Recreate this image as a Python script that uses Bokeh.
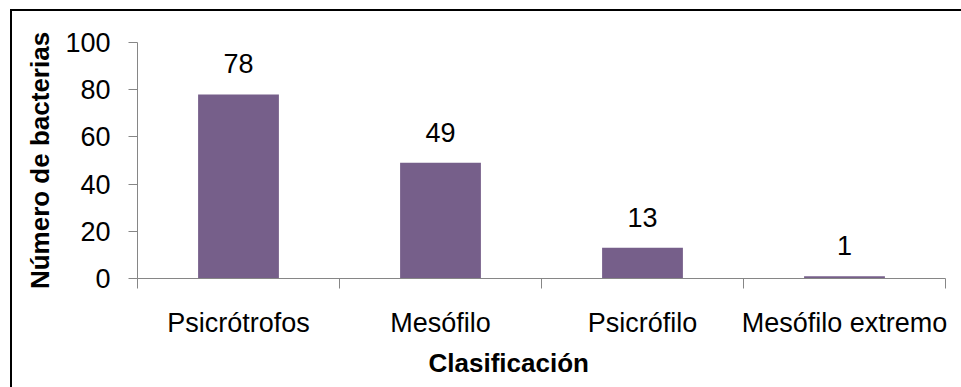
from bokeh.plotting import figure
from bokeh.models import (ColumnDataSource, Range1d, LinearAxis, FixedTicker,
                          LabelSet, Title, InlineStyleSheet)
from bokeh.core.properties import value
from bokeh.embed import file_html
from bokeh.resources import INLINE

# Data
categories = ["Psicrótrofos", "Mesófilo", "Psicrófilo", "Mesófilo extremo"]
counts = [78, 49, 13, 1]
y_ticks = [0, 20, 40, 60, 80, 100]

FONT = "Liberation Sans"
FONT_SIZE = "27px"
AXIS_GREY = "#868686"
BAR_COLOR = "#765F8A"

# bars sit in the middle of each unit-wide category slot
positions = [i + 0.5 for i in range(len(categories))]
boundaries = list(range(len(categories) + 1))

source = ColumnDataSource(dict(x=positions, count=counts,
                               label=[str(c) for c in counts]))

# thin black border around the chart area (top and left edges fall inside the page)
border_css = InlineStyleSheet(css="""
:host::after {
  content: "";
  position: absolute;
  left: 10px; top: 9px; right: 0; bottom: 0;
  border-top: 2px solid black;
  border-left: 2px solid black;
  pointer-events: none;
}
""")

p = figure(width=961, height=387, output_backend="svg", toolbar_location=None,
           x_range=Range1d(0, len(categories)), y_range=Range1d(0, 100),
           x_axis_location=None, y_axis_location=None,
           min_border_left=137, min_border_right=16,
           min_border_top=42, min_border_bottom=109,
           stylesheets=[border_css])
p.outline_line_color = None
p.xgrid.visible = False
p.ygrid.visible = False
p.background_fill_color = "white"
p.border_fill_color = "white"

p.vbar(x="x", top="count", width=0.4, source=source,
       fill_color=BAR_COLOR, line_color=None)

labels = LabelSet(x="x", y="count", text="label", source=source,
                  y_offset=21, text_align="center", text_baseline="alphabetic",
                  text_font=value(FONT), text_font_size=value(FONT_SIZE),
                  text_color="black")
p.add_layout(labels)

# y axis
yaxis = LinearAxis(ticker=FixedTicker(ticks=y_ticks))
yaxis.axis_label = "Número de bacterias"
yaxis.axis_label_text_font = FONT
yaxis.axis_label_text_font_size = "26px"
yaxis.axis_label_text_font_style = "bold"
yaxis.axis_label_text_color = "black"
yaxis.axis_label_standoff = 7
yaxis.major_label_text_font = FONT
yaxis.major_label_text_font_size = FONT_SIZE
yaxis.major_label_text_color = "black"
yaxis.major_label_standoff = 18
yaxis.axis_line_color = AXIS_GREY
yaxis.major_tick_line_color = AXIS_GREY
yaxis.major_tick_out = 9
yaxis.major_tick_in = 0
yaxis.minor_tick_line_color = None
p.add_layout(yaxis, "left")

# x axis: category names at slot centres, tick marks at slot boundaries
xaxis = LinearAxis(ticker=FixedTicker(ticks=positions, minor_ticks=boundaries))
xaxis.major_label_overrides = {pos: name for pos, name in zip(positions, categories)}
xaxis.major_label_text_font = FONT
xaxis.major_label_text_font_size = FONT_SIZE
xaxis.major_label_text_color = "black"
xaxis.major_label_standoff = 19
xaxis.axis_line_color = AXIS_GREY
xaxis.major_tick_line_color = None
xaxis.major_tick_out = 0
xaxis.major_tick_in = 0
xaxis.minor_tick_line_color = AXIS_GREY
xaxis.minor_tick_out = 10
xaxis.minor_tick_in = 0
p.add_layout(xaxis, "below")

# x axis title, placed slightly left of the frame centre
x_title = Title(text="Clasificación", align="left", offset=291,
                text_font=FONT, text_font_size="26px",
                text_font_style="bold", text_color="black", standoff=10)
p.add_layout(x_title, "below")

open("out.html", "w").write(file_html(p, INLINE))
